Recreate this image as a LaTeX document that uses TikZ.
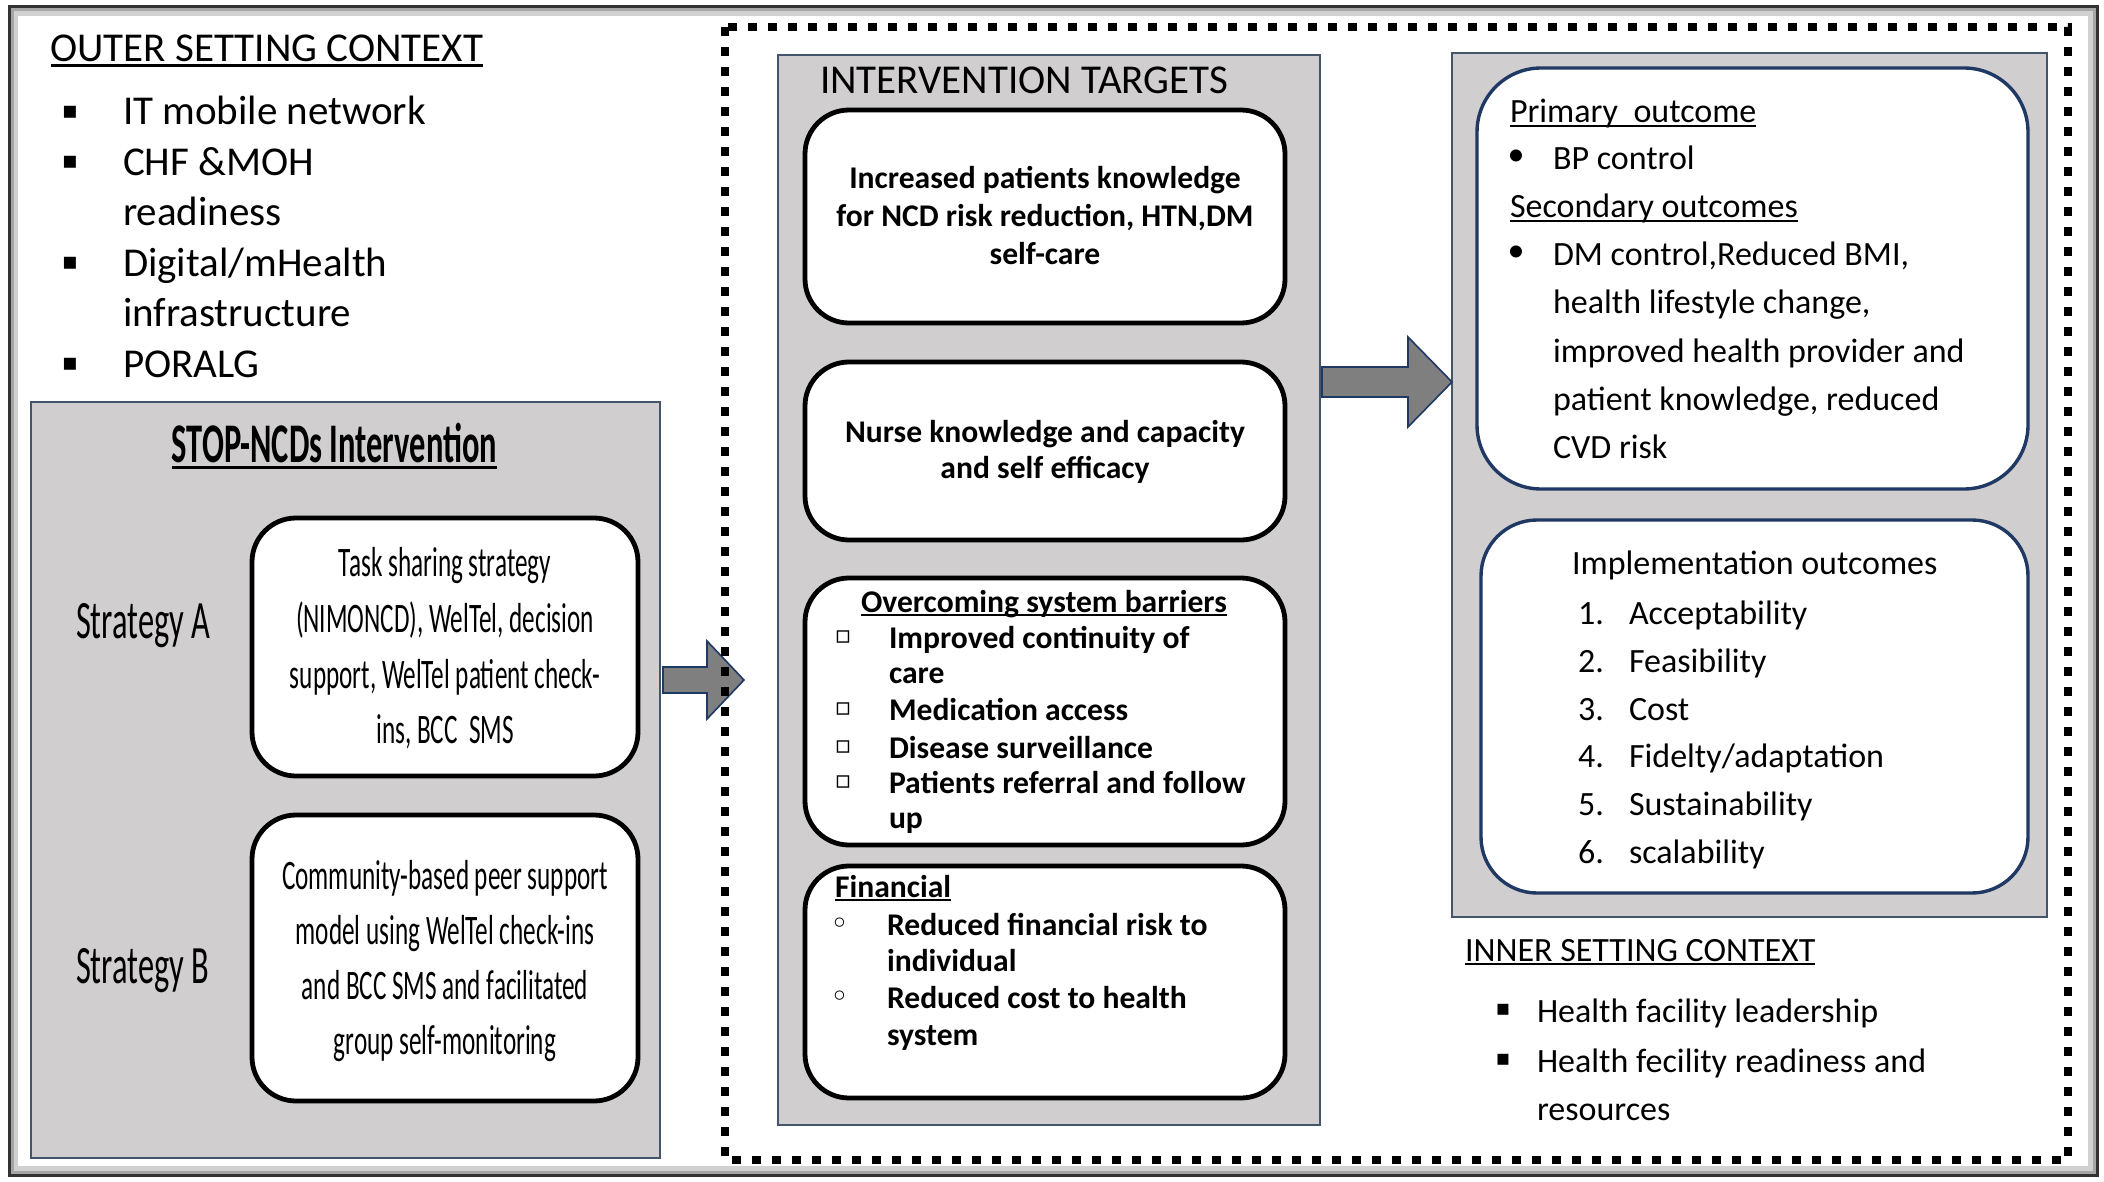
\documentclass[tikz,border=0pt]{standalone}
\usepackage{fontspec}
\setmainfont{Carlito}
\newfontfamily\symfont{DejaVu Sans}
\newfontfamily\condfont[FakeStretch=0.6]{Carlito}
\newfontfamily\condbfont[FakeStretch=0.58]{Carlito}
\usetikzlibrary{calc}
\definecolor{boxgray}{RGB}{208,206,206}
\definecolor{navy}{RGB}{31,56,100}
\definecolor{slate}{RGB}{68,84,106}
\definecolor{arrowgray}{RGB}{127,127,127}
\newcommand\ulin[1]{\setbox0\hbox{#1}\rlap{\rule[-0.13em]{\wd0}{0.065em}}\box0}
% #1 from, #2 to, #3 head length, #4 shaft half height, #5 head half height
\newcommand\blkarrow[5]{%
  \filldraw[fill=arrowgray, draw=navy, line width=0.8pt, line join=miter]
    ($(#1)+(0,-#4)$) -- ($(#2)+(-#3,-#4)$) -- ($(#2)+(-#3,-#5)$) -- (#2)
    -- ($(#2)+(-#3,#5)$) -- ($(#2)+(-#3,#4)$) -- ($(#1)+(0,#4)$) -- cycle;}
\begin{document}
\begin{tikzpicture}[x=0.5pt,y=-0.5pt,
  txt/.style={inner sep=0pt, outer sep=0pt, anchor=base west},
  outtxt/.style={txt, font=\fontsize{20.5}{25}\selectfont},
  rtxt/.style={txt, font=\fontsize{17}{24}\selectfont},
  btxt/.style={txt, anchor=base, font=\fontsize{15.8}{19}\selectfont\bfseries},
  bltxt/.style={btxt, anchor=base west},
  stxt/.style={txt, anchor=base, font=\condfont\fontsize{21}{28}\selectfont},
  slabel/.style={txt, font=\condfont\fontsize{27}{32}\selectfont},
  panel/.style={draw=slate, line width=0.75pt, fill=boxgray, inner sep=0pt, outer sep=0pt},
  blackbox/.style={draw=black, line width=2.4pt, fill=white, rounded corners=22pt, inner sep=0pt, outer sep=0pt},
  navybox/.style={draw=navy, line width=1.7pt, fill=white, inner sep=0pt, outer sep=0pt},
  sqbullet/.style={inner sep=0pt, anchor=center, font=\symfont\fontsize{12}{12}\selectfont},
  smbullet/.style={inner sep=0pt, anchor=center, font=\symfont\fontsize{11}{11}\selectfont},
  hollowbullet/.style={inner sep=0pt, anchor=center, font=\symfont\fontsize{12.5}{12.5}\selectfont},
  ringbullet/.style={inner sep=0pt, anchor=center, font=\symfont\fontsize{16}{16}\selectfont},
  dotbullet/.style={inner sep=0pt, anchor=center, font=\fontsize{17}{17}\selectfont}
]
\useasboundingbox (0,0) rectangle (2104,1182);
\fill[white] (0,0) rectangle (2104,1182);

% outer frame with inner shadow
\draw[black!18, line width=3pt] (15,13) rectangle (2091,1169);
\draw[black!35, line width=1.5pt] (12,10) rectangle (2094,1172);
\draw[black!80, line width=1.5pt] (9,7) rectangle (2097,1175);

% ---------------- outer setting context ----------------
\node[outtxt] (outtitle) at (50.5,61.7) {\ulin{OUTER SETTING CONTEXT}};
\node[outtxt] (out1) at (123,125) {IT mobile network};
\node[outtxt] (out2) at (123,175.5) {CHF \&MOH};
\node[outtxt] (out2b) at (123,226) {readiness};
\node[outtxt] (out3) at (123,276.5) {Digital/mHealth};
\node[outtxt] (out3b) at (123,327) {infrastructure};
\node[outtxt] (out4) at (123,377.5) {PORALG};
\node[sqbullet] (ob1) at (70,112) {▪};
\node[sqbullet] (ob2) at (70,162.5) {▪};
\node[sqbullet] (ob3) at (70,263.5) {▪};
\node[sqbullet] (ob4) at (70,364.5) {▪};

% ---------------- STOP-NCDs panel ----------------
\node[panel, minimum width=314.5pt, minimum height=378pt] (stop) at (345.5,780) {};
\node[txt, anchor=base, font=\condbfont\fontsize{28}{32}\selectfont\bfseries] (stoptitle) at (334.5,462) {\ulin{STOP-NCDs Intervention}};
\node[slabel] (stratA) at (76,638) {Strategy A};
\node[slabel] (stratB) at (76,983) {Strategy B};
\node[blackbox, minimum width=193pt, minimum height=129pt] (boxA) at (445,647) {};
\node[blackbox, minimum width=193pt, minimum height=143pt] (boxB) at (445,958) {};
\node[stxt] (a1) at (445,576) {Task sharing strategy};
\node[stxt] (a2) at (445,632) {(NIMONCD), WelTel, decision};
\node[stxt] (a3) at (445,688) {support, WelTel patient check-};
\node[stxt] (a4) at (445,743) {ins, BCC\ \ SMS};
\node[stxt] (b1) at (445,889) {Community-based peer support};
\node[stxt] (b2) at (445,944) {model using WelTel check-ins};
\node[stxt] (b3) at (445,999) {and BCC SMS and facilitated};
\node[stxt] (b4) at (445,1054) {group self-monitoring};

% ---------------- intervention targets ----------------
\node[panel, minimum width=271pt, minimum height=535pt] (targets) at (1049,590) {};
\node[outtxt] (targtitle) at (820,94) {INTERVENTION TARGETS};
\node[blackbox, minimum width=240pt, minimum height=106.5pt] (t1) at (1045,216.5) {};
\node[blackbox, minimum width=240pt, minimum height=89pt] (t2) at (1045,451) {};
\node[blackbox, minimum width=240pt, minimum height=133.5pt] (t3) at (1045,711.5) {};
\node[blackbox, minimum width=240pt, minimum height=116pt] (t4) at (1045,982) {};

\node[btxt] (t1a) at (1045,189) {Increased patients knowledge};
\node[btxt] (t1b) at (1045,227) {for NCD risk reduction, HTN,DM};
\node[btxt] (t1c) at (1045,264) {self-care};
\node[btxt] (t2a) at (1045,442) {Nurse knowledge and capacity};
\node[btxt] (t2b) at (1045,478) {and self efficacy};

\node[btxt] (t3title) at (1044,612) {\ulin{Overcoming system barriers}};
\node[bltxt] (t3a) at (889,648) {Improved continuity of};
\node[bltxt] (t3b) at (889,683) {care};
\node[bltxt] (t3c) at (889,720) {Medication access};
\node[bltxt] (t3d) at (889,758) {Disease surveillance};
\node[bltxt] (t3e) at (889,793) {Patients referral and follow};
\node[bltxt] (t3f) at (889,828) {up};
\node[hollowbullet] (tb1) at (843,637) {▫};
\node[hollowbullet] (tb2) at (843,709) {▫};
\node[hollowbullet] (tb3) at (843,747) {▫};
\node[hollowbullet] (tb4) at (843,782) {▫};

\node[bltxt] (t4title) at (835,897) {\ulin{Financial}};
\node[bltxt] (t4a) at (887,935) {Reduced financial risk to};
\node[bltxt] (t4b) at (887,971) {individual};
\node[bltxt] (t4c) at (887,1008) {Reduced cost to health};
\node[bltxt] (t4d) at (887,1045) {system};
\node[ringbullet] (fb1) at (840,926) {◦};
\node[ringbullet] (fb2) at (840,999) {◦};

% ---------------- outcomes ----------------
\node[panel, minimum width=297.5pt, minimum height=432pt] (outcomes) at (1749.5,485) {};
\node[navybox, rounded corners=32pt, minimum width=275.5pt, minimum height=210.5pt] (primary) at (1752.5,278.5) {};
\node[navybox, rounded corners=28pt, minimum width=273.5pt, minimum height=186.5pt] (impl) at (1754.5,706.5) {};

\node[rtxt] (p0) at (1510,123) {\ulin{Primary\ \ outcome}};
\node[dotbullet] (pb1) at (1516,158) {•};
\node[rtxt] (p1) at (1553,170) {BP control};
\node[rtxt] (s0) at (1510,218) {\ulin{Secondary outcomes}};
\node[dotbullet] (pb2) at (1516,254) {•};
\node[rtxt] (s1) at (1553,266) {DM control,Reduced BMI,};
\node[rtxt] (s2) at (1553,314) {health lifestyle change,};
\node[rtxt] (s3) at (1553,362) {improved health provider and};
\node[rtxt] (s4) at (1553,410) {patient knowledge, reduced};
\node[rtxt] (s5) at (1553,458) {CVD risk};

\node[rtxt] (i0) at (1572,574) {Implementation outcomes};
\node[rtxt] (in1) at (1578,624) {1.};
\node[rtxt] (in2) at (1578,672) {2.};
\node[rtxt] (in3) at (1578,720) {3.};
\node[rtxt] (in4) at (1578,767) {4.};
\node[rtxt] (in5) at (1578,815) {5.};
\node[rtxt] (in6) at (1578,863) {6.};
\node[rtxt] (i1) at (1629,624) {Acceptability};
\node[rtxt] (i2) at (1629,672) {Feasibility};
\node[rtxt] (i3) at (1629,720) {Cost};
\node[rtxt] (i4) at (1629,767) {Fidelty/adaptation};
\node[rtxt] (i5) at (1629,815) {Sustainability};
\node[rtxt] (i6) at (1629,863) {scalability};

% ---------------- inner setting ----------------
\node[rtxt] (inntitle) at (1465,961) {\ulin{INNER SETTING CONTEXT}};
\node[smbullet] (nb1) at (1503,1010) {▪};
\node[smbullet] (nb2) at (1503,1060) {▪};
\node[rtxt] (n1) at (1537,1022) {Health facility leadership};
\node[rtxt] (n2) at (1537,1072) {Health fecility readiness and};
\node[rtxt] (n2b) at (1537,1120) {resources};

% ---------------- block arrows ----------------
\coordinate (arr1from) at (663,680);
\coordinate (arr1to) at (744,680);
\coordinate (arr2from) at (1322,382);
\coordinate (arr2to) at (1452,382);
\blkarrow{arr1from}{arr1to}{37}{13}{39}
\blkarrow{arr2from}{arr2to}{44}{15}{45}

% ---------------- dotted frame ----------------
\draw[black, line width=4pt, dash pattern=on 4.5pt off 5.5pt] (725,27) rectangle (2068,1160);
\end{tikzpicture}
\end{document}
